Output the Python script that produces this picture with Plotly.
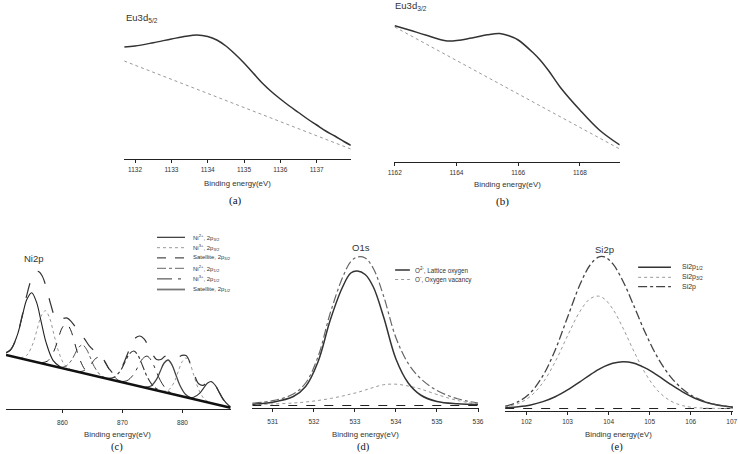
import plotly.graph_objects as go

W, H = 738, 454
SANS = "Liberation Sans, Arial, sans-serif"
SERIF = "Liberation Serif, Times New Roman, serif"

# ---------------- (a) Eu3d5/2 ----------------
a_energy = [1131.7, 1132.0, 1132.5, 1133.0, 1133.4, 1133.7, 1134.0, 1134.25, 1134.5, 1134.75,
            1135.0, 1135.25, 1135.5, 1135.75, 1136.0, 1136.25, 1136.5, 1136.75, 1137.0,
            1137.25, 1137.5, 1137.75, 1137.94]
a_intensity = [112, 113, 116.3, 120, 122.8, 124, 122.5, 119, 113, 105,
               96, 86, 76, 67.5, 60, 53, 46.5, 40, 34,
               28, 23, 17.5, 13.7]
a_bg_energy = [1131.7, 1137.94]
a_bg = [98, 10]

# ---------------- (b) Eu3d3/2 ----------------
b_energy = [1162.0, 1162.5, 1163.0, 1163.7, 1164.5, 1165.0, 1165.4, 1165.7, 1166.0,
            1166.5, 1166.71, 1167.0, 1167.35, 1168.0, 1168.63, 1169.29]
b_intensity = [136.6, 132.0, 127.3, 121.3, 124.3, 127.5, 128.8, 126.5, 122.3,
               109, 102.3, 91, 75.6, 52.3, 32.3, 17.3]
b_bg_energy = [1162.0, 1169.29]
b_bg = [135.3, 13.3]

# ---------------- (c) Ni2p ----------------
ni_bg_energy = [850.58, 888.03]
ni_bg = [54.0, 1.3]

ni_env_energy = [850.58, 851.5, 852.5, 853.3, 854.0, 854.8, 855.5, 856.0, 856.6, 857.3,
                 858.0, 858.8, 859.5, 860.2, 860.8, 861.5, 862.3, 863.0, 863.7, 864.5,
                 865.3, 866.2, 867.0, 867.8, 868.6, 869.3, 870.0, 870.8, 871.5, 872.2,
                 872.9, 873.6, 874.3, 875.0, 875.7, 876.4, 877.1, 877.8, 878.5, 879.2,
                 879.9, 880.6, 881.3, 882.0, 882.7, 883.4, 884.1, 884.8, 885.5, 886.2,
                 886.9, 887.5, 888.03]
ni_env = [56.0, 60.4, 74.7, 94.1, 112.8, 129.5, 136.7, 137.5, 133.3, 121.5,
          105.5, 91.5, 88.5, 90.7, 90.9, 87.2, 80.8, 75.7, 69.9, 62.8,
          58.3, 54.5, 48.2, 40.0, 35.3, 36.5, 43.0, 54.4, 64.5, 71.2,
          73.0, 70.1, 63.1, 54.8, 49.5, 49.5, 52.8, 53.6, 51.7, 51.2,
          53.6, 53.4, 45.9, 33.9, 25.2, 23.6, 26.5, 27.6, 23.5, 15.9,
          8.7, 4.5, 2.3]

ni2_32_energy = [850.05, 851.25, 852.45, 853.25, 854.05, 854.85, 855.65, 856.45, 857.25, 858.45, 859.65]
ni2_32 = [55.5, 58.5, 73.6, 91.7, 109.4, 116.3, 107.1, 87.2, 66.8, 48.4, 42.0]
ni3_32_energy = [852.95, 854.0, 855.05, 855.75, 856.45, 857.15, 857.85, 858.55, 859.25, 860.3, 861.35]
ni3_32 = [51.3, 53.5, 65.1, 79.2, 93.0, 98.3, 91.0, 75.2, 59.2, 44.6, 39.4]
sat_32_energy = [856.45, 857.5, 858.55, 859.25, 859.95, 860.65, 861.35, 862.05, 862.75, 863.8, 864.85]
sat_32 = [46.3, 47.9, 57.6, 69.5, 81.2, 85.5, 79.2, 65.6, 51.7, 39.0, 34.4]
sat_32b_energy = [859.45, 860.425, 861.4, 862.05, 862.7, 863.35, 864.0, 864.65, 865.3, 866.275, 867.25]
sat_32b = [41.8, 42.4, 47.9, 54.8, 61.7, 64.0, 59.8, 51.2, 42.4, 34.2, 30.9]
sat_32c_energy = [862.3, 863.275, 864.25, 864.9, 865.55, 866.2, 866.85, 867.5, 868.15, 869.125, 870.1]
sat_32c = [37.7, 37.7, 41.3, 46.0, 50.6, 52.0, 48.8, 42.3, 35.8, 29.5, 26.8]
ni2_12_energy = [867.4, 868.525, 869.65, 870.4, 871.15, 871.9, 872.65, 873.4, 874.15, 875.275, 876.4]
ni2_12 = [30.7, 31.5, 38.2, 46.7, 55.1, 58.0, 53.0, 42.5, 31.9, 22.0, 18.1]
ni3_12_energy = [869.6, 870.725, 871.85, 872.6, 873.35, 874.1, 874.85, 875.6, 876.35, 877.475, 878.6]
ni3_12 = [27.6, 28.2, 34.5, 42.4, 50.2, 52.9, 48.1, 38.2, 28.1, 18.7, 14.9]
sat_12_energy = [873.7, 874.675, 875.65, 876.3, 876.95, 877.6, 878.25, 878.9, 879.55, 880.525, 881.5]
sat_12 = [21.8, 22.7, 29.4, 37.8, 46.0, 49.0, 44.2, 34.2, 24.0, 14.5, 10.9]
sat_12b_energy = [876.7, 877.675, 878.65, 879.3, 879.95, 880.6, 881.25, 881.9, 882.55, 883.525, 884.5]
sat_12b = [17.7, 19.0, 27.2, 37.4, 47.3, 51.0, 45.4, 33.7, 21.8, 10.8, 6.7]
sat_12c_energy = [880.9, 881.875, 882.85, 883.5, 884.15, 884.8, 885.45, 886.1, 886.75, 887.725, 888.7]
sat_12c = [11.6, 11.7, 15.6, 20.7, 25.7, 27.4, 23.9, 17.1, 10.1, 3.5, 0.6]

ni_legend = ["Ni<sup>2+</sup>, 2p<sub>3/2</sub>", "Ni<sup>3+</sup>, 2p<sub>3/2</sub>",
             "Satellite, 2p<sub>3/2</sub>", "Ni<sup>2+</sup>, 2p<sub>1/2</sub>",
             "Ni<sup>3+</sup>, 2p<sub>1/2</sub>", "Satellite, 2p<sub>1/2</sub>"]

# ---------------- (d) O1s ----------------
o_energy = [530.5, 531.0, 531.5, 531.8, 532.1, 532.4, 532.7, 532.9, 533.06, 533.25,
            533.45, 533.7, 534.0, 534.3, 534.6, 535.0, 535.5, 536.0]
o_lattice = [3.8, 5.8, 11.5, 21.5, 46, 88, 121, 135, 137, 133.5,
             121, 91, 49, 25, 13, 6.5, 4.2, 3.5]
o_vacancy = [3.5, 4, 5, 6, 7.5, 9.5, 12, 14, 15.5, 18,
             20.5, 23.3, 23.8, 22, 19, 13.5, 7.5, 4]
o_total = [4.8, 7.3, 14, 25, 51, 95, 130.5, 146.5, 151, 150,
           139.5, 111.8, 70.3, 44.5, 29.5, 17.5, 9.2, 5]
o_bg_energy = [530.5, 536.02]
o_bg = [2.5, 2.5]
o_legend = ["O<sup>2-</sup>, Lattice oxygen", "O<sup>-</sup>, Oxygen vacancy"]

# ---------------- (e) Si2p ----------------
si_energy = [101.48, 101.8, 102.1, 102.4, 102.7, 103.0, 103.3, 103.55, 103.75, 103.9,
             104.1, 104.35, 104.6, 104.9, 105.2, 105.5, 105.8, 106.1, 106.5, 107.03]
si_12 = [2.7, 3.8, 5.6, 8.9, 13.8, 20.6, 28.7, 35.7, 40.9, 44.1,
         47.2, 48.8, 47.5, 42.4, 34.9, 26.4, 18.6, 12.3, 6.7, 3.3]
si_32 = [3.6, 7.0, 14.3, 27.9, 48.8, 74.7, 99.0, 111.8, 114.4, 111.5,
         101.6, 82.5, 60.6, 36.8, 19.7, 9.8, 4.9, 2.9, 2.2, 2.0]
si_total = [4.3, 8.8, 17.9, 34.8, 60.6, 93.3, 125.7, 145.5, 153.3, 153.6,
            146.8, 129.3, 106.1, 77.2, 52.6, 34.2, 21.5, 13.2, 6.9, 3.3]
si_bg_energy = [101.48, 107.03]
si_bg = [2.0, 2.0]
si_legend = ["Si2p<sub>1/2</sub>", "Si2p<sub>3/2</sub>", "Si2p"]


def X(p):
    return p / W


def Y(p):
    return 1 - p / H


fig = go.Figure()


def add(x, y, ax, color, width=1.0, dash="solid", spline=True):
    fig.add_trace(go.Scatter(
        x=x, y=y, mode="lines", xaxis="x" + ax, yaxis="y" + ax,
        line=dict(color=color, width=width, dash=dash,
                  shape="spline" if spline else "linear", smoothing=1.0),
        showlegend=False, hoverinfo="skip"))


# (a)
add(a_energy, a_intensity, "", "#333", 1.5)
add(a_bg_energy, a_bg, "", "#999", 1.0, "dot", False)
# (b)
add(b_energy, b_intensity, "2", "#333", 1.5)
add(b_bg_energy, b_bg, "2", "#999", 1.0, "dot", False)
# (c)
add(ni2_32_energy, ni2_32, "3", "#222", 1.1, "solid")
add(ni3_32_energy, ni3_32, "3", "#999", 1.0, "dot")
add(sat_32_energy, sat_32, "3", "#222", 1.0, "dash")
add(sat_32b_energy, sat_32b, "3", "#555", 1.0, "dashdot")
add(sat_32c_energy, sat_32c, "3", "#333", 1.0, "dash")
add(ni2_12_energy, ni2_12, "3", "#333", 1.1, "dashdot")
add(ni3_12_energy, ni3_12, "3", "#333", 1.0, "longdashdot")
add(sat_12_energy, sat_12, "3", "#444", 1.3, "solid")
add(sat_12b_energy, sat_12b, "3", "#999", 1.0, "dot")
add(sat_12c_energy, sat_12c, "3", "#333", 1.1, "solid")
add(ni_env_energy, ni_env, "3", "#333", 1.2, "longdash")
add(ni_bg_energy, ni_bg, "3", "#111", 2.6, "solid", False)
# (d)
add(o_bg_energy, o_bg, "4", "#222", 1.0, "dash", False)
add(o_energy, o_vacancy, "4", "#999", 1.0, "dot")
add(o_energy, o_lattice, "4", "#333", 1.5, "solid")
add(o_energy, o_total, "4", "#666", 1.2, "dashdot")
# (e)
add(si_bg_energy, si_bg, "5", "#222", 1.0, "dash", False)
add(si_energy, si_32, "5", "#999", 1.0, "dot")
add(si_energy, si_12, "5", "#333", 1.5, "solid")
add(si_energy, si_total, "5", "#444", 1.3, "dashdot")

panels = {
    # key: (x0, x1, ytop, ybottom, xrange, ymax, tickvals, tickstandoff, linewidth)
    "": (120, 350, 25, 159, [1131.7, 1137.94], 134, [1132, 1133, 1134, 1135, 1136, 1137], 1, 1),
    "2": (394, 623, 25, 162.3, [1161.98, 1169.29], 137.3, [1162, 1164, 1166, 1168], 1, 1),
    "3": (0, 228, 240, 409, [850.58, 888.03], 169, [860, 870, 880], 4, 1),
    "4": (250, 480, 240, 408, [530.5, 536.02], 168, [531, 532, 533, 534, 535, 536], 4, 1.3),
    "5": (506.7, 738, 240, 410.5, [101.48, 107.03], 170.5, [102, 103, 104, 105, 106, 107], 2, 1.3),
}
lay = {}
for k, (x0, x1, yt, yb, xr, ymax, tv, so, lw) in panels.items():
    lay["xaxis" + k] = dict(
        domain=[X(x0), X(x1)], range=xr, anchor="y" + k,
        showline=True, linecolor="#222", linewidth=lw, ticks="outside", ticklen=3,
        tickwidth=1, tickcolor="#222", tickvals=tv, ticklabelstandoff=so,
        ticklabeloverflow="allow",
        tickfont=dict(family=SANS, size=6.5, color="#333"),
        showgrid=False, zeroline=False, fixedrange=True)
    lay["yaxis" + k] = dict(
        domain=[Y(yb), Y(yt)], range=[0, ymax], anchor="x" + k, visible=False,
        fixedrange=True)

ann = []


def text(s, x, y, size, font=SANS, xanchor="center", color="#333"):
    ann.append(dict(text=s, x=X(x), y=Y(y), xref="paper", yref="paper",
                    xanchor=xanchor, yanchor="middle", showarrow=False,
                    font=dict(family=font, size=size, color=color)))


text("Eu3d<sub>5/2</sub>", 120, 18, 9.5, xanchor="left")
text("Binding energy(eV)", 235, 183, 7.8)
text("(a)", 233, 200, 11, SERIF, color="#111")
text("Eu3d<sub>3/2</sub>", 393, 6, 9.5, xanchor="left")
text("Binding energy(eV)", 509, 184, 7.8)
text("(b)", 504, 201, 11, SERIF, color="#111")
text("Ni2p", 28, 258, 9.5)
text("Binding energy(eV)", 113, 434, 7.8)
text("(c)", 113, 447, 10.5, SERIF, color="#111")
text("O1s", 360, 247, 9.5)
text("Binding energy(eV)", 365, 434, 7.8)
text("(d)", 363, 447, 10.5, SERIF, color="#111")
text("Si2p", 608, 249, 9.5)
text("Binding energy(eV)", 622, 434, 7.8)
text("(e)", 620, 447, 10.5, SERIF, color="#111")

shapes = []


def leg(x0, x1, y, color, width, dash, label, tx, size):
    shapes.append(dict(type="line", xref="paper", yref="paper",
                       x0=X(x0), x1=X(x1), y0=Y(y), y1=Y(y),
                       line=dict(color=color, width=width, dash=dash)))
    text(label, tx, y, size, xanchor="left")


ni_rows = [237.3, 247.7, 257.9, 268.3, 278.9, 289.5]
ni_styles = [("#222", 1.1, "solid"), ("#999", 1.0, "dot"), ("#222", 1.0, "dash"),
             ("#666", 1.0, "dashdot"), ("#333", 1.0, "longdashdot"), ("#777", 1.8, "solid")]
for r, (c, w, d), lbl in zip(ni_rows, ni_styles, ni_legend):
    leg(153.3, 181.7, r, c, w, d, lbl, 187.5, 6)

o_rows = [270, 279.5]
o_styles = [("#333", 1.5, "solid"), ("#999", 1.0, "dot")]
for r, (c, w, d), lbl in zip(o_rows, o_styles, o_legend):
    leg(395, 410, r, c, w, d, lbl, 413.5, 6.3)

si_rows = [267.3, 277.3, 286.7]
si_styles = [("#333", 1.5, "solid"), ("#999", 1.0, "dot"), ("#444", 1.3, "dashdot")]
for r, (c, w, d), lbl in zip(si_rows, si_styles, si_legend):
    leg(641.7, 675, r, c, w, d, lbl, 684, 7)

fig.update_layout(
    width=W, height=H, margin=dict(l=0, r=0, t=0, b=0),
    paper_bgcolor="white", plot_bgcolor="white", showlegend=False,
    annotations=ann, shapes=shapes, **lay)

fig.write_html("out.html")
